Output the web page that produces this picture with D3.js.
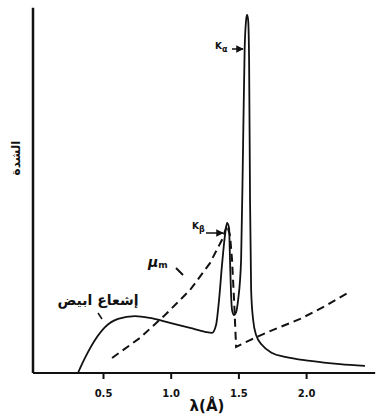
<!DOCTYPE html>
<html>
<head>
<meta charset="utf-8">
<script src="https://cdn.jsdelivr.net/npm/d3@7"></script>
<style>
  body { margin: 0; background: #fff; }
  svg text { font-family: "DejaVu Sans", sans-serif; fill: #111; }
</style>
</head>
<body>
<div id="chart"></div>
<script>
// wavelength (A) and intensity for the solid curve (white radiation + K lines)
var whiteLambda = [0.315, 0.367, 0.441, 0.515, 0.611, 0.736, 0.847, 0.995, 1.143, 1.254, 1.305, 1.335, 1.357, 1.379, 1.401, 1.416, 1.431, 1.438, 1.446, 1.453, 1.468, 1.483, 1.498, 1.520, 1.534, 1.546, 1.557, 1.564, 1.572, 1.579, 1.586, 1.594, 1.609, 1.631, 1.675, 1.749, 1.845, 2.03, 2.25, 2.435];
var whiteI      = [0, 4.2, 9.2, 12.8, 15.1, 15.9, 15.4, 14.0, 12.6, 11.5, 11.2, 13.4, 20.4, 30.2, 38.5, 41.9, 40.5, 31.6, 21.8, 17.6, 16.2, 17.0, 20.4, 31.6, 62.3, 90.2, 98.6, 100, 98.6, 87.4, 48.3, 23.2, 14.8, 10.6, 7.8, 5.6, 4.5, 3.4, 2.5, 2.0];

// absorption coefficient (dashed)
var muLambda = [0.567, 0.773, 0.958, 1.143, 1.290, 1.379, 1.416, 1.438, 1.453, 1.468, 1.483, 1.586, 1.734, 1.956, 2.141, 2.304];
var muI      = [4.2, 9.8, 16.2, 23.2, 30.7, 37.2, 41.3, 38.5, 31.6, 20.4, 7.3, 9.2, 11.7, 15.1, 18.7, 22.3];

var xTicks = [0.5, 1.0, 1.5, 2.0];

var width = 388, height = 419;

var svg = d3.select("#chart").append("svg")
    .attr("width", width)
    .attr("height", height);

var x = d3.scaleLinear().domain([0, 2.5]).range([35.3, 373.8]);
var y = d3.scaleLinear().domain([0, 100]).range([373, 15]);

// axes lines
svg.append("line")
    .attr("x1", x(-0.017)).attr("x2", x(-0.017))
    .attr("y1", y(102)).attr("y2", y(0))
    .attr("stroke", "#111").attr("stroke-width", 2.5);

svg.append("line")
    .attr("x1", x(-0.017)).attr("x2", x(2.51))
    .attr("y1", y(0)).attr("y2", y(0))
    .attr("stroke", "#111").attr("stroke-width", 2);

var xAxis = svg.append("g")
    .attr("transform", "translate(0," + y(0) + ")")
    .call(d3.axisBottom(x)
        .tickValues(xTicks)
        .tickFormat(d3.format(".1f"))
        .tickSize(6)
        .tickPadding(11));

xAxis.select(".domain").remove();
xAxis.selectAll(".tick line").attr("stroke", "#111").attr("stroke-width", 2);
xAxis.selectAll(".tick text")
    .attr("font-size", 10)
    .attr("font-weight", "bold")
    .style("font-family", "DejaVu Sans, sans-serif")
    .attr("fill", "#111");

// axis titles
svg.append("text")
    .attr("x", 207).attr("y", 411)
    .attr("text-anchor", "middle")
    .attr("font-size", 15)
    .attr("font-weight", "bold")
    .text("λ(Å)");

svg.append("text")
    .attr("transform", "translate(20,158) rotate(-90)")
    .attr("text-anchor", "middle")
    .attr("font-size", 12)
    .attr("font-weight", "bold")
    .text("الشدة");

// curves
var whiteData = whiteLambda.map(function(d, i){ return [d, whiteI[i]]; });
var muData = muLambda.map(function(d, i){ return [d, muI[i]]; });

var solidLine = d3.line()
    .x(function(d){ return x(d[0]); })
    .y(function(d){ return y(d[1]); })
    .curve(d3.curveMonotoneX);

var dashLine = d3.line()
    .x(function(d){ return x(d[0]); })
    .y(function(d){ return y(d[1]); });

svg.append("path")
    .datum(whiteData)
    .attr("d", solidLine)
    .attr("fill", "none")
    .attr("stroke", "#111")
    .attr("stroke-width", 1.8);

svg.append("path")
    .datum(muData)
    .attr("d", dashLine)
    .attr("fill", "none")
    .attr("stroke", "#111")
    .attr("stroke-width", 2)
    .attr("stroke-dasharray", "8,5");

// arrow marker
svg.append("defs").append("marker")
    .attr("id", "arr")
    .attr("viewBox", "0 0 10 10")
    .attr("refX", 9).attr("refY", 5)
    .attr("markerWidth", 5).attr("markerHeight", 5)
    .attr("orient", "auto")
    .append("path")
    .attr("d", "M0,0L10,5L0,10z")
    .attr("fill", "#111");

// K alpha label
svg.append("text")
    .attr("x", 215).attr("y", 49)
    .attr("font-size", 9).attr("font-weight", "bold")
    .text("K")
    .append("tspan").attr("dy", 3).attr("font-size", 8).text("α");
svg.append("line")
    .attr("x1", 232).attr("y1", 49).attr("x2", 243).attr("y2", 49)
    .attr("stroke", "#111").attr("stroke-width", 1.5)
    .attr("marker-end", "url(#arr)");

// K beta label
svg.append("text")
    .attr("x", 192).attr("y", 229)
    .attr("font-size", 9).attr("font-weight", "bold")
    .text("K")
    .append("tspan").attr("dy", 3).attr("font-size", 8).text("β");
svg.append("line")
    .attr("x1", 206).attr("y1", 233).attr("x2", 223).attr("y2", 233)
    .attr("stroke", "#111").attr("stroke-width", 1.5)
    .attr("marker-end", "url(#arr)");

// mu_m label
svg.append("text")
    .attr("x", 148).attr("y", 267)
    .attr("font-size", 14).attr("font-weight", "bold")
    .attr("font-style", "italic")
    .text("μ")
    .append("tspan").attr("dy", 1).attr("font-size", 9).attr("font-style", "normal").text("m");
svg.append("line")
    .attr("x1", 176).attr("y1", 268).attr("x2", 183).attr("y2", 275)
    .attr("stroke", "#111").attr("stroke-width", 2);

// white radiation label
svg.append("text")
    .attr("x", 98).attr("y", 305)
    .attr("text-anchor", "middle")
    .attr("font-size", 14).attr("font-weight", "bold")
    .text("إشعاع ابيض");
svg.append("line")
    .attr("x1", 98).attr("y1", 313).attr("x2", 102).attr("y2", 319)
    .attr("stroke", "#111").attr("stroke-width", 1.5);
</script>
</body>
</html>
